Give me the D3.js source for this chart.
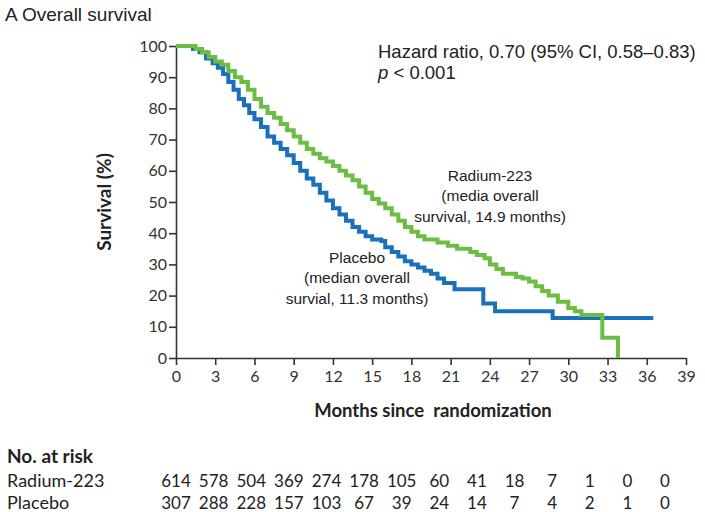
<!DOCTYPE html>
<html><head><meta charset="utf-8">
<script src="https://cdn.jsdelivr.net/npm/d3@7"></script>
<style>body{margin:0;background:#fff}svg{display:block}</style>
</head><body><svg id="c" width="705" height="512"></svg>
<script>
// ---- data ----
const xTicks = [0,3,6,9,12,15,18,21,24,27,30,33,36,39];
const yTicks = [0,10,20,30,40,50,60,70,80,90,100];
const radiumTime = [0,1.2,1.5,2.0,2.5,3.0,3.5,4.0,4.5,5.0,5.5,6.0,6.5,7.0,7.5,8.0,8.5,9.0,9.5,10.0,10.5,11.0,11.5,12.0,12.5,13.0,13.5,14.0,14.5,15.0,15.5,16.0,16.5,17.0,17.5,18.0,18.5,19.0,20.0,20.8,21.5,22.5,23.0,23.6,24.0,24.5,25.0,26.0,26.5,27.0,27.5,28.0,28.5,29.2,30.0,30.5,31.0,32.6,33.8];
const radiumSurv = [100,100,99,98,96.5,95,94,92,90,88.5,86,83,80.5,78.5,77,75,73,71,69,67,65.5,64,63,61.5,60,58.5,57,55,53,51,49.5,48,46,44,42,40.5,39,38,37,36,35,34,33,32,30,28.5,27,26,25.5,24.5,23,21.5,20,18,16,15,13.8,6.5,0];
const placeboTime = [0,1.0,1.3,1.8,2.3,2.8,3.2,3.6,4.0,4.4,4.8,5.2,5.6,6.0,6.5,7.0,7.5,8.0,8.5,9.0,9.5,10.0,10.5,11.0,11.5,12.0,12.5,13.0,13.5,14.0,14.5,15.0,15.7,16.0,16.5,17.0,17.5,18.0,18.5,19.0,19.5,20.0,20.5,21.3,23.5,24.4,28.8,36.5];
const placeboSurv = [100,100,99,98,96,94.5,93,91,88.5,86,83,81,78.5,76.5,74,71,69,67,65,62.5,60,57.5,55.5,53,50.5,48,46,44,42,40.5,39,38,37.5,35.5,34,32.5,31,30,29,28,27,25.5,24,22,17.5,15,12.8,12.8];
const riskRows = ["Radium-223","Placebo"];
const riskRadium = [614,578,504,369,274,178,105,60,41,18,7,1,0,0];
const riskPlacebo = [307,288,228,157,103,67,39,24,14,7,4,2,1,0];

// ---- drawing ----
const svg = d3.select("#c");
const x = d3.scaleLinear().domain([0,39]).range([176,686]);
const y = d3.scaleLinear().domain([0,100]).range([358,46]);
const narrow = "Lato, 'Liberation Sans', Arial, sans-serif";
const sans = "'Liberation Sans', Arial, sans-serif";

svg.append("text").attr("x",5).attr("y",21).attr("font-family",sans).attr("font-size",19).attr("fill","#222").text("A Overall survival");

const xa = svg.append("g").attr("transform","translate(0,358)")
  .call(d3.axisBottom(x).tickValues(xTicks).tickSize(7).tickPadding(6).tickSizeOuter(0));
const ya = svg.append("g").attr("transform","translate(176,0)")
  .call(d3.axisLeft(y).tickValues(yTicks).tickSize(7).tickPadding(2).tickSizeOuter(0));
[xa,ya].forEach(g=>{
  g.select(".domain").attr("stroke","#333").attr("stroke-width",1.6);
  g.selectAll(".tick line").attr("stroke","#333").attr("stroke-width",1.6);
  g.selectAll(".tick text").attr("font-family",narrow).attr("font-size",16).attr("fill","#333");
});

const line = d3.line().x(d=>x(d[0])).y(d=>y(d[1])).curve(d3.curveStepAfter);
svg.append("path").datum(placeboTime.map((t,i)=>[t,placeboSurv[i]]))
  .attr("d",line).attr("fill","none").attr("stroke","#1a70ba").attr("stroke-width",4);
svg.append("path").datum(radiumTime.map((t,i)=>[t,radiumSurv[i]]))
  .attr("d",line).attr("fill","none").attr("stroke","#6cbd43").attr("stroke-width",4);

svg.append("text").attr("transform","translate(111,202) rotate(-90)").attr("text-anchor","middle")
  .attr("font-family",narrow).attr("font-weight","bold").attr("font-size",19).attr("fill","#222").text("Survival (%)");
svg.append("text").attr("x",433).attr("y",417).attr("text-anchor","middle")
  .attr("font-family",narrow).attr("font-weight","bold").attr("font-size",18.5).attr("fill","#222")
  .attr("xml:space","preserve").text("Months since  randomization");

const ann = (tx,ty,s,anchor,fs)=>svg.append("text").attr("x",tx).attr("y",ty).attr("text-anchor",anchor||"start")
  .attr("font-family",sans).attr("font-size",fs||15.5).attr("fill","#222").text(s);
ann(378,58,"Hazard ratio, 0.70 (95% CI, 0.58\u20130.83)","start",18.5);
const pt = ann(378,79,"","start",18.5);
pt.append("tspan").attr("font-style","italic").text("p");
pt.append("tspan").text(" < 0.001");
ann(490,181,"Radium-223","middle");
ann(490,201,"(media overall","middle");
ann(490,222,"survival, 14.9 months)","middle");
ann(357,263,"Placebo","middle");
ann(357,283,"(median overall","middle");
ann(357,304,"survial, 11.3 months)","middle");

svg.append("text").attr("x",7).attr("y",463).attr("font-family",narrow).attr("font-weight","bold")
  .attr("font-size",19).attr("fill","#222").text("No. at risk");
const colX = d3.scaleLinear().domain([0,13]).range([176,665]);
[riskRadium,riskPlacebo].forEach((row,ri)=>{
  const yy = 487 + ri*22;
  svg.append("text").attr("x",7).attr("y",yy).attr("font-family",narrow).attr("font-size",18).attr("fill","#222").text(riskRows[ri]);
  row.forEach((v,i)=>svg.append("text").attr("x",colX(i)).attr("y",yy).attr("text-anchor","middle")
    .attr("font-family",narrow).attr("font-size",17).attr("fill","#222").text(v));
});
</script></body></html>
